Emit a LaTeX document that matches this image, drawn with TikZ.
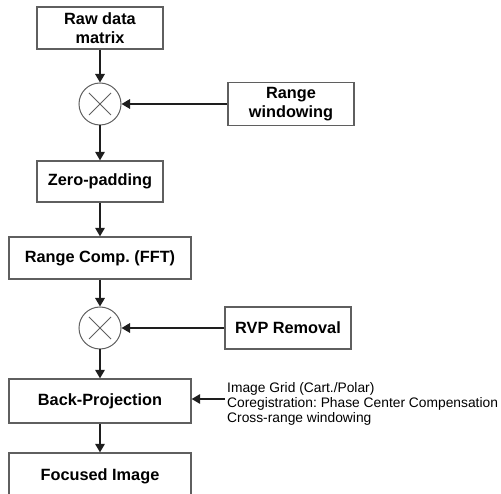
\documentclass[tikz,border=0pt]{standalone}
\usepackage{fontspec}
\setmainfont{Liberation Sans}
\usetikzlibrary{arrows.meta,calc}
\frenchspacing
\definecolor{boxline}{RGB}{95,95,95}
\definecolor{arrline}{RGB}{30,30,30}
\tikzset{
  x=1pt, y=-1pt,
  blk/.style={draw=boxline, line width=1.3pt, fill=white, minimum width=126pt, minimum height=42pt,
    inner sep=0pt, align=center, font=\bfseries\fontsize{16.3}{19}\selectfont},
  wide/.style={blk, minimum width=182pt},
  mult/.style={draw=boxline, line width=1pt, circle, minimum size=42pt, inner sep=0pt},
  arr/.style={draw=arrline, line width=1.6pt, -{Triangle[length=8.5pt,width=9.5pt]}},
}
\begin{document}
\begin{tikzpicture}
\useasboundingbox (0,0) rectangle (501,494);
\begin{scope}
\clip (0,0) rectangle (501,494);
\node[blk] (raw) at (100,28) {Raw data\\matrix};
\node[mult] (m1) at (100,104) {};
\draw[boxline, line width=0.9pt] ($(m1)+(-11,-11)$) -- ($(m1)+(11,11)$) ($(m1)+(-11,11)$) -- ($(m1)+(11,-11)$);
\node[blk, minimum height=43pt] (rw) at (291,104) {Range\\windowing};
\node[blk, minimum height=41pt] (zp) at (100,181.5) {Zero-padding};
\node[wide] (rc) at (100,258) {Range Comp. (FFT)};
\node[mult] (m2) at (100,328) {};
\draw[boxline, line width=0.9pt] ($(m2)+(-11,-11)$) -- ($(m2)+(11,11)$) ($(m2)+(-11,11)$) -- ($(m2)+(11,-11)$);
\node[blk] (rvp) at (288,328) {RVP Removal};
\node[wide, minimum height=44pt] (bp) at (100,401) {Back-Projection};
\node[wide, minimum height=46pt] (fi) at (100,476) {\raisebox{2pt}{Focused Image}};
\node[anchor=west, align=left, inner sep=0pt, font=\fontsize{13.8}{15}\selectfont] (notes) at (227,403.5)
  {Image Grid (Cart./Polar)\\Coregistration: Phase Center Compensation\\Cross-range windowing};
\coordinate (nin) at (225,399);
\draw[arr] (raw) -- (m1);
\draw[arr] (rw) -- (m1);
\draw[arr] (m1) -- (zp);
\draw[arr] (zp) -- (rc);
\draw[arr] (rc) -- (m2);
\draw[arr] (rvp) -- (m2);
\draw[arr] (m2) -- (bp);
\draw[arr] (nin) -- (bp.east |- nin);
\draw[arr] (bp) -- (fi);
\end{scope}
\end{tikzpicture}
\end{document}
